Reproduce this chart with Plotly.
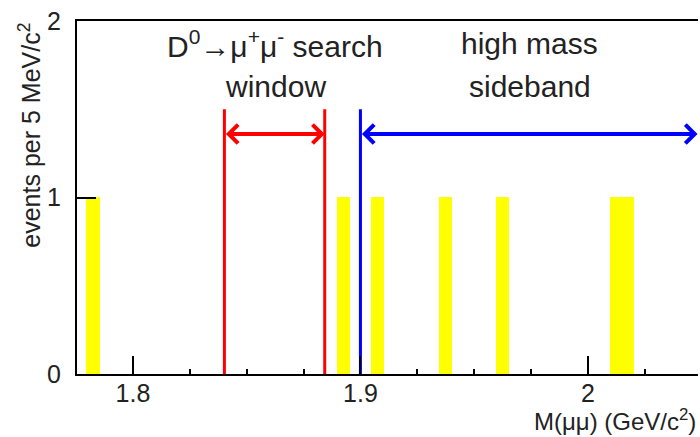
import plotly.graph_objects as go

# ---- data ----
bin_centers = [1.7825, 1.8925, 1.9075, 1.9375, 1.9625, 2.0125, 2.0175]
bin_counts = [1, 1, 1, 1, 1, 1, 1]
bin_width = 0.005

window_edges = [1.8402, 1.8843]      # D0 search window
sideband_start = 1.9                 # high mass sideband start
sideband_end = 2.0482                # right edge of the plot
marker_top = 1.5
arrow_y = 1.36

x_range = [1.7754, 2.0484]
y_range = [0, 2]
y_ticks = [0, 1, 2]
x_ticks = [1.8, 1.9, 2.0]
x_tick_labels = ["1.8", "1.9", "2"]

FONT = "Liberation Sans, Arial, sans-serif"
TXT = "#222222"

fig = go.Figure()

fig.add_trace(go.Bar(
    x=bin_centers, y=bin_counts, width=[bin_width] * len(bin_centers),
    marker=dict(color="#ffff00", line=dict(color="#ffff00", width=2)),
    showlegend=False, hoverinfo="skip",
))

for xe in window_edges:
    fig.add_trace(go.Scatter(x=[xe, xe], y=[0, marker_top], mode="lines",
                             line=dict(color="#ff0000", width=3),
                             showlegend=False, hoverinfo="skip"))
fig.add_trace(go.Scatter(x=[sideband_start, sideband_start], y=[0, marker_top],
                         mode="lines", line=dict(color="#0000ff", width=3),
                         showlegend=False, hoverinfo="skip"))

# double-headed arrows
fig.add_annotation(x=window_edges[1], y=arrow_y, ax=window_edges[0], ay=arrow_y,
                   xref="x", yref="y", axref="x", ayref="y", text="",
                   showarrow=True, arrowhead=4, startarrowhead=4,
                   arrowside="end+start", arrowwidth=4, arrowsize=0.9,
                   startarrowsize=0.9, arrowcolor="#ff0000", standoff=0, startstandoff=0)
fig.add_annotation(x=sideband_end, y=arrow_y, ax=sideband_start, ay=arrow_y,
                   xref="x", yref="y", axref="x", ayref="y", text="",
                   showarrow=True, arrowhead=4, startarrowhead=4,
                   arrowside="end+start", arrowwidth=4, arrowsize=0.9,
                   startarrowsize=0.9, arrowcolor="#0000ff", standoff=0, startstandoff=0)

# region labels
def label(text, x, y):
    fig.add_annotation(x=x, y=y, xref="x", yref="y", text=text, showarrow=False,
                       font=dict(family=FONT, size=30, color=TXT),
                       xanchor="center", yanchor="middle")

label("D<sup>0</sup>→μ<sup>+</sup>μ<sup>-</sup> search", 1.8625, 1.87)
label("window", 1.8625, 1.63)
label("high mass", 1.9745, 1.87)
label("sideband", 1.9745, 1.63)

# axis titles
fig.add_annotation(x=1.0, y=-0.13, xref="paper", yref="paper",
                   text="M(μμ) (GeV/c<sup>2</sup>)", showarrow=False,
                   font=dict(family=FONT, size=24, color=TXT),
                   xanchor="right", yanchor="middle")
fig.add_annotation(x=-0.077, y=1.0, xref="paper", yref="paper",
                   text="events per 5 MeV/c<sup>2</sup>", showarrow=False,
                   textangle=-90,
                   font=dict(family=FONT, size=25, color=TXT),
                   xanchor="center", yanchor="top")

fig.update_layout(
    width=700, height=437,
    margin=dict(l=77, r=2, t=21, b=63),
    paper_bgcolor="white", plot_bgcolor="white",
    bargap=0,
    xaxis=dict(range=x_range, showgrid=False, zeroline=False, automargin=False,
               showline=True, linecolor="black", linewidth=2, mirror=True,
               ticks="inside", ticklen=18, tickwidth=1.5, tickcolor="black",
               tickvals=x_ticks, ticktext=x_tick_labels,
               ticklabelstandoff=-4,
               tickfont=dict(family=FONT, size=25, color=TXT),
               minor=dict(ticks="inside", ticklen=5, tickwidth=1.5,
                          tickcolor="black", dtick=0.025, tick0=1.8)),
    yaxis=dict(range=y_range, showgrid=False, zeroline=False, automargin=False,
               showline=True, linecolor="black", linewidth=2,
               ticks="inside", ticklen=19, tickwidth=1.5, tickcolor="black",
               tickvals=y_ticks, ticklabelstandoff=9,
               tickfont=dict(family=FONT, size=25, color=TXT)),
)

fig.write_html("out.html",
               config={"displayModeBar": False},
               post_script="document.body.style.margin='0px';"
                           "document.body.style.overflow='hidden';")
